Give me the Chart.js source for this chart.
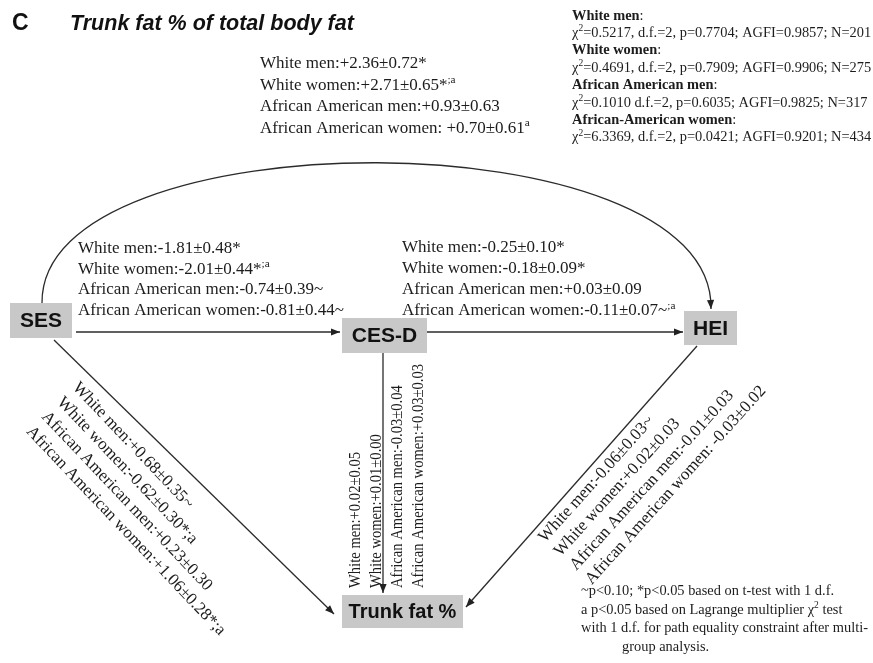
<!DOCTYPE html>
<html>
<head>
<meta charset="utf-8">
<script src="https://cdn.jsdelivr.net/npm/chart.js@4.4.1/dist/chart.umd.min.js"></script>
<style>
  html, body { margin: 0; padding: 0; background: #ffffff; }
  canvas { display: block; }
</style>
</head>
<body>
<canvas id="c" width="873" height="663"></canvas>
<script>
// ---- Data ---------------------------------------------------------------
const groups = ["White men", "White women", "African American men", "African American women"];
const nodeNames = ["SES", "CES-D", "HEI", "Trunk fat %"];

// Path coefficients (estimate ± SE) per group; trailing marks: ~p<0.10, *p<0.05, a = group difference
const sesToHei = ["+2.36±0.72*", "+2.71±0.65*", "+0.93±0.63", " +0.70±0.61"];
const sesToHeiSup = ["", ";a", "", "a"];
const sesToCesd = ["-1.81±0.48*", "-2.01±0.44*", "-0.74±0.39~", "-0.81±0.44~"];
const sesToCesdSup = ["", ";a", "", ""];
const cesdToHei = ["-0.25±0.10*", "-0.18±0.09*", "+0.03±0.09", "-0.11±0.07~"];
const cesdToHeiSup = ["", "", "", ";a"];
const sesToFat = ["+0.68±0.35~", "-0.62±0.30*;a", "+0.23±0.30", "+1.06±0.28*;a"];
const cesdToFat = ["+0.02±0.05", "+0.01±0.00", "-0.03±0.04", "+0.03±0.03"];
const heiToFat = ["-0.06±0.03~", "+0.02±0.03", "-0.01±0.03", " -0.03±0.02"];

// Model fit per group
const fitGroups = ["White men", "White women", "African American men", "African-American women"];
const fitChi2 = ["0.5217,", "0.4691,", "0.1010", "6.3369,"];
const fitDf = ["2", "2", "2", "2"];
const fitP = ["0.7704", "0.7909", "0.6035", "0.0421"];
const fitAgfi = ["0.9857", "0.9906", "0.9825", "0.9201"];
const fitN = ["201", "275", "317", "434"];

const footnotes = [
  [{ t: "~p<0.10; *p<0.05 based on t-test with 1 d.f." }],
  [{ t: "a p<0.05 based on Lagrange multiplier χ" }, { t: "2", sup: true }, { t: " test" }],
  [{ t: "with 1 d.f. for path equality constraint after multi-" }],
  [{ t: "group analysis." }]
];

// ---- Layout (diagram units = canvas pixels) -----------------------------
const SERIF = "'Liberation Serif', 'Times New Roman', serif";
const SANS = "'Liberation Sans', Arial, sans-serif";
const INK = "#1c1c1c";

const layout = {
  boxes: [
    { x0: 10, y0: 303, x1: 72, y1: 338, size: 21 },
    { x0: 342, y0: 318, x1: 427, y1: 353, size: 21 },
    { x0: 684, y0: 311, x1: 737, y1: 345, size: 21 },
    { x0: 342, y0: 595, x1: 463, y1: 628, size: 20 }
  ],
  edges: [
    [[76, 332], [340, 332]],
    [[427, 332], [683, 332]],
    [[383, 353], [383, 593]],
    [[54, 340], [334, 614]],
    [[697, 346], [466, 607]]
  ],
  arc: [[42, 303], [40, 115], [715, 115], [711, 309]]
};

// ---- Drawing helpers ----------------------------------------------------
function drawSegs(ctx, x, y, segs, size, weight) {
  let cx = x;
  for (const s of segs) {
    if (!s.t) continue;
    const sz = s.sup ? size * 0.66 : size;
    const w = s.bold ? 'bold ' : (weight || '');
    ctx.font = w + sz + 'px ' + SERIF;
    ctx.fillText(s.t, cx, s.sup ? y - size * 0.38 : y);
    cx += ctx.measureText(s.t).width;
  }
}

function drawBlock(ctx, lines, x, y, step, size, angle, sx) {
  ctx.save();
  ctx.translate(x, y);
  ctx.rotate(angle || 0);
  ctx.scale(sx || 1, 1);
  lines.forEach((segs, i) => drawSegs(ctx, 0, i * step, segs, size));
  ctx.restore();
}

function coefLines(vals, sups) {
  return groups.map((g, i) => [{ t: g + ":" + vals[i] }, { t: sups ? sups[i] : "", sup: true }]);
}

function arrowHead(ctx, from, to) {
  const a = Math.atan2(to[1] - from[1], to[0] - from[0]);
  const L = 9, W = 3.6;
  ctx.save();
  ctx.translate(to[0], to[1]);
  ctx.rotate(a);
  ctx.beginPath();
  ctx.moveTo(0, 0);
  ctx.lineTo(-L, -W);
  ctx.lineTo(-L, W);
  ctx.closePath();
  ctx.fillStyle = "#222";
  ctx.fill();
  ctx.restore();
}

const diagram = {
  id: 'diagram',
  afterDatasetsDraw(chart) {
    const ctx = chart.ctx;
    const xs = chart.scales.x, ys = chart.scales.y;
    const P = p => [xs.getPixelForValue(p[0]), ys.getPixelForValue(p[1])];

    ctx.save();
    ctx.textBaseline = 'alphabetic';
    ctx.fillStyle = INK;

    // curved path SES -> HEI
    const [a0, a1, a2, a3] = layout.arc.map(P);
    ctx.beginPath();
    ctx.moveTo(a0[0], a0[1]);
    ctx.bezierCurveTo(a1[0], a1[1], a2[0], a2[1], a3[0], a3[1]);
    ctx.strokeStyle = "#2b2b2b";
    ctx.lineWidth = 1.3;
    ctx.stroke();
    arrowHead(ctx, [a3[0] - 0.5, a3[1] - 10], a3);

    // arrowheads on straight paths
    layout.edges.forEach(e => arrowHead(ctx, P(e[0]), P(e[1])));

    // variable boxes
    layout.boxes.forEach((b, i) => {
      const p0 = P([b.x0, b.y0]), p1 = P([b.x1, b.y1]);
      ctx.fillStyle = "#c8c8c8";
      ctx.fillRect(p0[0], p0[1], p1[0] - p0[0], p1[1] - p0[1]);
      ctx.fillStyle = "#111";
      ctx.font = 'bold ' + b.size + 'px ' + SANS;
      ctx.textAlign = 'center';
      ctx.textBaseline = 'middle';
      ctx.fillText(nodeNames[i], (p0[0] + p1[0]) / 2, (p0[1] + p1[1]) / 2 + 1);
    });
    ctx.textAlign = 'left';
    ctx.textBaseline = 'alphabetic';
    ctx.fillStyle = INK;

    // title
    ctx.fillStyle = "#111";
    ctx.font = 'bold 23px ' + SANS;
    ctx.fillText("C", 12, 30);
    ctx.font = 'italic bold 21.5px ' + SANS;
    ctx.fillText("Trunk fat % of total body fat", 70, 30);
    ctx.fillStyle = INK;

    // coefficient labels
    drawBlock(ctx, coefLines(sesToHei, sesToHeiSup), 260, 68, 21.5, 17);
    drawBlock(ctx, coefLines(sesToCesd, sesToCesdSup), 78, 253, 20.7, 17);
    drawBlock(ctx, coefLines(cesdToHei, cesdToHeiSup), 402, 252, 21, 17);
    drawBlock(ctx, coefLines(sesToFat), 72, 388, 21.3, 17, 46.5 * Math.PI / 180);
    drawBlock(ctx, coefLines(heiToFat), 545, 543, 21, 17, -48 * Math.PI / 180);
    drawBlock(ctx, coefLines(cesdToFat), 360, 588, 21, 17, -Math.PI / 2, 0.86);

    // model fit summary
    const fitLines = [];
    fitGroups.forEach((g, i) => {
      fitLines.push([{ t: g, bold: true }, { t: ":" }]);
      fitLines.push([{ t: "χ" }, { t: "2", sup: true },
        { t: "=" + fitChi2[i] + " d.f.=" + fitDf[i] + ", p=" + fitP[i] + "; AGFI=" + fitAgfi[i] + "; N=" + fitN[i] }]);
    });
    drawBlock(ctx, fitLines, 572, 19.5, 17.4, 14.4);

    // footnotes
    drawBlock(ctx, footnotes.slice(0, 3), 581, 595, 18.5, 14.4);
    drawBlock(ctx, footnotes.slice(3), 622, 650.5, 18.5, 14.4);

    ctx.restore();
  }
};

new Chart(document.getElementById('c'), {
  type: 'scatter',
  data: {
    datasets: layout.edges.map(e => ({
      data: e.map(p => ({ x: p[0], y: p[1] })),
      showLine: true,
      borderColor: "#2b2b2b",
      borderWidth: 1.3,
      pointRadius: 0,
      fill: false
    }))
  },
  options: {
    responsive: false,
    animation: false,
    devicePixelRatio: 1,
    layout: { padding: 0 },
    plugins: { legend: { display: false }, tooltip: { enabled: false } },
    scales: {
      x: { type: 'linear', min: 0, max: 873, display: false },
      y: { type: 'linear', min: 0, max: 663, reverse: true, display: false }
    }
  },
  plugins: [diagram]
});
</script>
</body>
</html>
